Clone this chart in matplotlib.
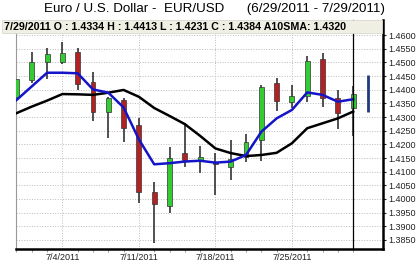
import numpy as np
import matplotlib
matplotlib.use('Agg')
import matplotlib.pyplot as plt

plt.rcParams['font.family'] = ['Liberation Sans', 'DejaVu Sans']

# Daily EUR/USD candles, 6/29/2011 - 7/29/2011 (+ 8/1 partial bar)
dates = ['6/29', '6/30', '7/1', '7/4', '7/5', '7/6', '7/7', '7/8',
         '7/11', '7/12', '7/13', '7/14', '7/15', '7/18', '7/19', '7/20',
         '7/21', '7/22', '7/25', '7/26', '7/27', '7/28', '7/29']
opens = [1.4372, 1.4435, 1.4502, 1.4500, 1.4539, 1.4429, 1.4319, 1.4362,
         1.4271, 1.4027, 1.3975, 1.4169, 1.4143, 1.4133, 1.4118, 1.4155,
         1.4216, 1.4423, 1.4356, 1.4377, 1.4511, 1.4368, 1.4334]
highs = [1.4445, 1.4539, 1.4554, 1.4576, 1.4551, 1.4466, 1.4374, 1.4368,
         1.4295, 1.4063, 1.4191, 1.4279, 1.4194, 1.4167, 1.4216, 1.4238,
         1.4417, 1.4442, 1.4417, 1.4523, 1.4535, 1.4399, 1.4413]
lows = [1.4340, 1.4425, 1.4438, 1.4495, 1.4399, 1.4286, 1.4222, 1.4210,
        1.3984, 1.3840, 1.3950, 1.4118, 1.4094, 1.4015, 1.4070, 1.4137,
        1.4140, 1.4323, 1.4332, 1.4356, 1.4335, 1.4255, 1.4231]
closes = [1.4440, 1.4502, 1.4530, 1.4533, 1.4420, 1.4319, 1.4368, 1.4259,
          1.4027, 1.3982, 1.4149, 1.4143, 1.4155, 1.4129, 1.4145, 1.4210,
          1.4409, 1.4360, 1.4377, 1.4505, 1.4368, 1.4316, 1.4384]
sma_fast = [1.4362, 1.4412, 1.4462, 1.4462, 1.4460, 1.4401, 1.4389, 1.4335,
            1.4218, 1.4127, 1.4131, 1.4137, 1.4140, 1.4133, 1.4137, 1.4161,
            1.4246, 1.4295, 1.4326, 1.4390, 1.4381, 1.4356, 1.4365]
sma10 = [1.4314, 1.4338, 1.4360, 1.4384, 1.4383, 1.4381, 1.4389, 1.4399,
         1.4374, 1.4333, 1.4304, 1.4274, 1.4231, 1.4185, 1.4168, 1.4157,
         1.4161, 1.4169, 1.4204, 1.4259, 1.4277, 1.4295, 1.4320]
next_bar = (1.4454, 1.4319)  # partial bar for 8/1

week_ticks = [3, 8, 13, 18]
week_labels = ['7/4/2011', '7/11/2011', '7/18/2011', '7/25/2011']
y_ticks = np.arange(1.3850, 1.46001, 0.005)

fig = plt.figure(figsize=(4.16, 2.64), dpi=100)
ax = fig.add_axes([16/416, 1 - 249/264, 367/416, 229/264])

x = np.arange(len(dates))
for i in x:
    o, h, l, c = opens[i], highs[i], lows[i], closes[i]
    if abs(c - o) < 0.0006:
        col = '#3b2a8c'
    elif c > o:
        col = '#33cc33'
    else:
        col = '#b22222'
    ax.vlines(i, l, h, color='#333333', lw=1.2, zorder=2)
    lo, hi = min(o, c), max(o, c)
    ax.bar(i, max(hi - lo, 0.0004), bottom=lo, width=0.32, color=col,
           edgecolor='#333333', lw=0.5, zorder=3)

ax.vlines(len(dates), next_bar[1], next_bar[0], color='#1f3a80', lw=2, zorder=3)

ax.plot(x, sma10, color='black', lw=1.8, zorder=4)
ax.plot(x, sma_fast, color='#1414c8', lw=1.8, zorder=5)

ax.axvline(len(dates) - 1, color='black', lw=0.9, zorder=6, clip_on=False)

ax.set_xlim(-0.03, 23.95)
ax.set_ylim(1.3817, 1.4655)
ax.set_yticks(y_ticks)
ax.set_yticklabels(['%.4f' % v for v in y_ticks])
ax.yaxis.tick_right()
ax.set_xticks(week_ticks)
ax.set_xticklabels(week_labels)
ax.set_xticks(x, minor=True)
ax.tick_params(axis='y', labelsize=6.5, length=2, pad=2, colors='#222222')
ax.tick_params(axis='x', which='major', labelsize=6.5, length=0, pad=3, colors='#222222')
ax.tick_params(axis='x', which='minor', length=2, color='#888888')
ax.grid(True, color='#bbbbbb', linestyle=':', lw=0.7)
ax.set_axisbelow(True)

ax.spines['top'].set_visible(False)
ax.spines['left'].set_color('#999999')
ax.spines['left'].set_linewidth(0.8)
ax.spines['right'].set_linewidth(1.8)
ax.spines['bottom'].set_linewidth(1.8)

fig.text(0.515, 0.965, 'Euro / U.S. Dollar -  EUR/USD      (6/29/2011 - 7/29/2011)',
         ha='center', va='center', fontsize=9.6)
fig.patches.append(plt.Rectangle((2/416, 1 - 33/264), 380/416, 12.5/264,
                                 transform=fig.transFigure, facecolor='#f0efe4',
                                 edgecolor='#d8d8d0', lw=0.6, zorder=1))
fig.text(4/416, 1 - 27/264,
         '7/29/2011 O : 1.4334 H : 1.4413 L : 1.4231 C : 1.4384 A10SMA: 1.4320',
         ha='left', va='center', fontsize=7.7, fontweight='bold', zorder=2)

fig.savefig('out.png', dpi=100)
